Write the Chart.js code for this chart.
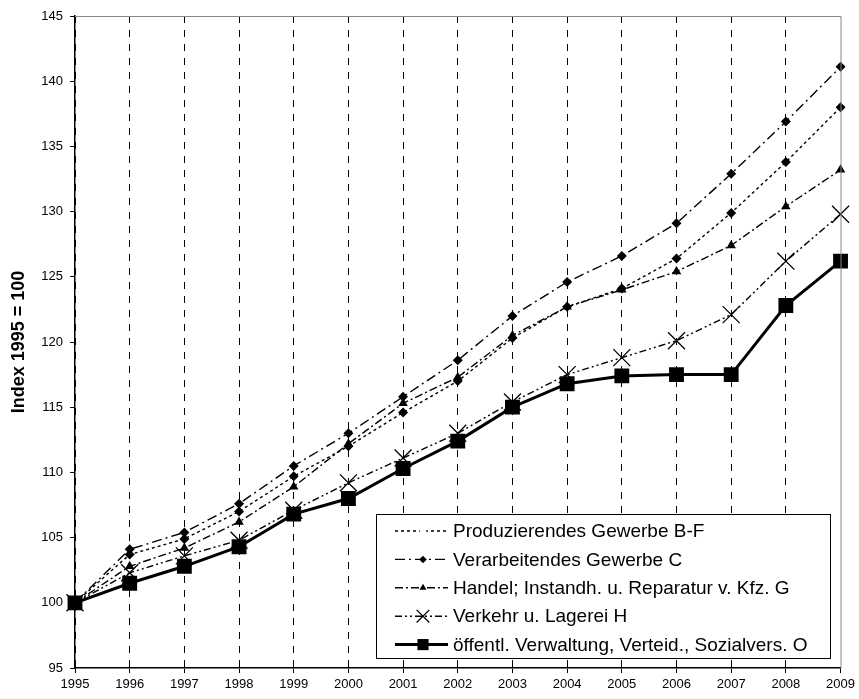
<!DOCTYPE html>
<html>
<head>
<meta charset="utf-8">
<script src="https://cdn.jsdelivr.net/npm/chart.js@4.4.1/dist/chart.umd.min.js"></script>
<style>
  html, body { margin: 0; padding: 0; background: #fff; }
  #wrap { width: 859px; height: 699px; }
</style>
</head>
<body>
<div id="wrap"><canvas id="indexChart" width="859" height="699"></canvas></div>
<script>
// Data
const years = ["1995", "1996", "1997", "1998", "1999", "2000", "2001", "2002",
    "2003", "2004", "2005", "2006", "2007", "2008", "2009"];
const produzierend = [100, 103.7, 104.9, 107.0, 109.7, 112.0, 114.6, 117.0, 120.3, 122.7, 124.1, 126.4, 129.9, 133.8, 138.0];
const verarbeitend = [100, 104.1, 105.4, 107.6, 110.5, 113.0, 115.8, 118.6, 122.0, 124.6, 126.6, 129.1, 132.9, 136.9, 141.1];
const handel = [100, 102.8, 104.2, 106.2, 108.9, 112.2, 115.3, 117.3, 120.5, 122.7, 124.0, 125.4, 127.4, 130.4, 133.2];
const verkehr = [100, 102.3, 103.6, 104.8, 107.1, 109.2, 111.1, 113.0, 115.4, 117.5, 118.8, 120.1, 122.1, 126.2, 129.8];
const oeffentlich = [100, 101.5, 102.8, 104.3, 106.8, 108.0, 110.3, 112.4, 115.0, 116.8, 117.4, 117.5, 117.5, 122.8, 126.2];

const seriesNames = [
    "Produzierendes Gewerbe B-F",
    "Verarbeitendes Gewerbe C",
    "Handel; Instandh. u. Reparatur v. Kfz. G",
    "Verkehr u. Lagerei H",
    "öffentl. Verwaltung, Verteid., Sozialvers. O"
];

const FONT = "'Liberation Sans', Arial, sans-serif";

function lineSet(label, data, dash, style, radius, width, order) {
    return {
        label: label,
        data: data,
        borderColor: "#000",
        backgroundColor: "#000",
        borderWidth: width,
        borderDash: dash,
        pointStyle: style,
        pointRadius: radius,
        pointHoverRadius: radius,
        pointBorderColor: "#000",
        pointBackgroundColor: "#000",
        pointBorderWidth: style === "crossRot" ? 1.3 : 0,
        tension: 0,
        fill: false,
        order: order,
    };
}

// grey frame on top/right + legend box inside the plot
const framePlugin = {
    id: "frame",
    afterDatasetsDraw(chart) {
        const { ctx, chartArea: a } = chart;
        ctx.save();
        ctx.strokeStyle = "#888";
        ctx.lineWidth = 1;
        ctx.setLineDash([]);
        ctx.beginPath();
        ctx.moveTo(a.left, a.top + 0.5);
        ctx.lineTo(a.right + 0.5, a.top + 0.5);
        ctx.lineTo(a.right + 0.5, a.bottom);
        ctx.stroke();
        ctx.restore();
    },
    afterDraw(chart) {
        const ctx = chart.ctx;
        const box = { x: 376, y: 514, w: 454, h: 144 };
        ctx.save();
        ctx.fillStyle = "#fff";
        ctx.fillRect(box.x, box.y, box.w, box.h);
        ctx.strokeStyle = "#000";
        ctx.lineWidth = 1;
        ctx.setLineDash([]);
        ctx.strokeRect(box.x + 0.5, box.y + 0.5, box.w, box.h);

        chart.data.datasets.forEach((ds, i) => {
            const y = 531 + i * 28.4;
            ctx.strokeStyle = "#000";
            ctx.lineWidth = ds.borderWidth;
            ctx.setLineDash(ds.borderDash);
            ctx.beginPath();
            ctx.moveTo(395, y);
            ctx.lineTo(448, y);
            ctx.stroke();
            ctx.setLineDash([]);
            ctx.lineWidth = ds.pointBorderWidth || 1;
            Chart.helpers.drawPoint(ctx, {
                pointStyle: ds.pointStyle,
                radius: ds.pointRadius * 0.75,
                borderWidth: ds.pointBorderWidth,
                rotation: 0,
            }, 423, y);
            ctx.fillStyle = "#000";
            ctx.font = "19px " + FONT;
            ctx.textBaseline = "middle";
            ctx.textAlign = "left";
            ctx.fillText(ds.label, 453, y + 1);
        });
        ctx.restore();
    },
};

document.addEventListener("DOMContentLoaded", function () {
    const ctx = document.getElementById("indexChart");

    new Chart(ctx.getContext("2d"), {
        type: "line",
        data: {
            labels: years,
            datasets: [
                lineSet(seriesNames[0], produzierend, [3, 3], "rectRot", 5, 1.4, 4),
                lineSet(seriesNames[1], verarbeitend, [10, 4, 2, 4], "rectRot", 5, 1.4, 3),
                lineSet(seriesNames[2], handel, [8, 3, 2, 3], "triangle", 5.5, 1.4, 2),
                lineSet(seriesNames[3], verkehr, [7, 3, 2, 3, 2, 3], "crossRot", 12, 1.4, 1),
                lineSet(seriesNames[4], oeffentlich, [], "rect", 10.5, 3, 0),
            ],
        },
        options: {
            responsive: false,
            animation: false,
            layout: {
                padding: { top: 16, right: 17, left: 0, bottom: 0 },
            },
            scales: {
                x: {
                    offset: false,
                    grid: {
                        color: (c) => (c.index === years.length - 1 ? "rgba(0,0,0,0)" : "#000"),
                        lineWidth: 1,
                        drawTicks: true,
                        tickLength: 5,
                        tickColor: "#000",
                    },
                    border: { display: true, color: "#000", width: 1.5, dash: [7, 7] },
                    ticks: {
                        color: "#000",
                        font: { family: FONT, size: 13 },
                        padding: 4,
                        maxRotation: 0,
                        autoSkip: false,
                    },
                    afterFit: (scale) => { scale.height = 31; },
                },
                y: {
                    min: 95,
                    max: 145,
                    grid: {
                        drawOnChartArea: false,
                        drawTicks: true,
                        tickLength: 5,
                        tickColor: "#000",
                    },
                    border: { display: true, color: "#000", width: 1.5 },
                    ticks: {
                        stepSize: 5,
                        color: "#000",
                        font: { family: FONT, size: 13 },
                        padding: 7,
                    },
                    title: {
                        display: true,
                        text: "Index 1995 = 100",
                        color: "#000",
                        font: { family: FONT, size: 18, weight: "bold" },
                        padding: { top: 8, bottom: 0 },
                    },
                    afterFit: (scale) => { scale.width = 75; },
                },
            },
            plugins: {
                legend: { display: false },
                tooltip: { enabled: false },
            },
        },
        plugins: [framePlugin],
    });
});
</script>
</body>
</html>
